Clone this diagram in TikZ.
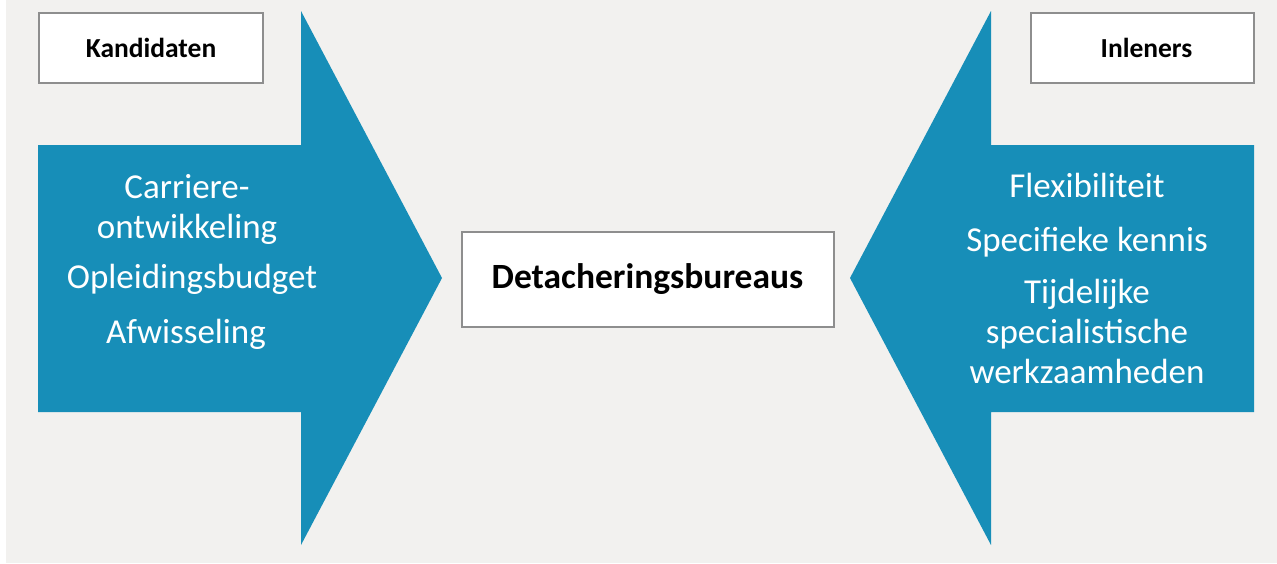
\documentclass[tikz,border=0pt]{standalone}
\usepackage{fontspec}
\setmainfont{Carlito}
\definecolor{arrowblue}{HTML}{178EB8}
\definecolor{paper}{HTML}{F2F1EF}
\definecolor{boxframe}{HTML}{8E8E8E}
\begin{document}
\begin{tikzpicture}[x=1pt,y=-1pt,
  labelbox/.style={draw=boxframe, line width=2pt, fill=white, inner sep=0pt,
    font=\bfseries\fontsize{27.5}{32}\selectfont},
  itemtext/.style={text=white, align=center, inner sep=0pt, anchor=base,
    font=\fontsize{35}{40}\selectfont}]
\useasboundingbox (0,0) rectangle (1277,563);
% paper
\fill[paper] (6,0) rectangle (1277,563);
% block arrows pointing to the centre
\fill[arrowblue] (38,145) -- (301,145) -- (301,11) -- (442,278) -- (301,545)
  -- (301,412) -- (38,412) -- cycle;
\fill[arrowblue] (1254,145) -- (991,145) -- (991,11) -- (850,278) -- (991,545)
  -- (991,412) -- (1254,412) -- cycle;
% header boxes
\node[labelbox, minimum width=224pt, minimum height=70pt] (kand) at (151,48) {Kandidaten};
\node[labelbox, minimum width=223pt, minimum height=70pt] (inl) at (1142.5,48)
  {\hspace*{8pt}Inleners};
% central box
\node[labelbox, minimum width=372pt, minimum height=95pt,
  font=\bfseries\fontsize{35.5}{40}\selectfont] (det) at (647.5,279)
  {\raisebox{-1.5pt}{Detacheringsbureaus}};
% left arrow items (base = baseline of the last line)
\node[itemtext] (carr) at (187,238) {Carriere-\\ontwikkeling};
\node[itemtext] (opl) at (192,288) {Opleidingsbudget};
\node[itemtext] (afw) at (186,343) {Afwisseling};
% right arrow items
\node[itemtext] (flex) at (1087,197) {Flexibiliteit};
\node[itemtext] (spec) at (1087,251) {Specifieke kennis};
\node[itemtext] (tijd) at (1087,383) {Tijdelijke\\specialistische\\werkzaamheden};
\end{tikzpicture}
\end{document}
